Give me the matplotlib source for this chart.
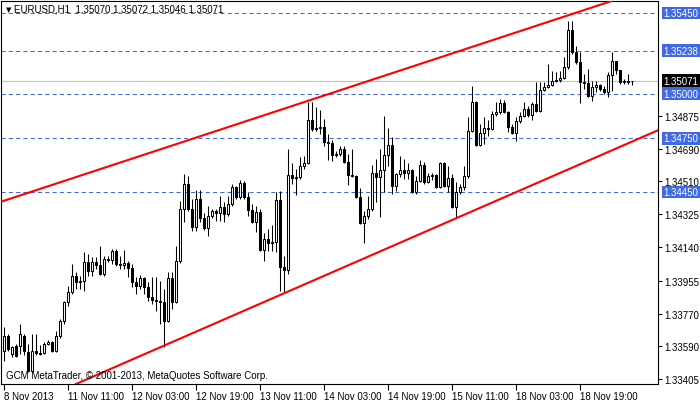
import matplotlib
matplotlib.use("Agg")
import matplotlib.pyplot as plt
import matplotlib.transforms as mtransforms

plt.rcParams['font.family'] = ['Liberation Sans', 'DejaVu Sans']
plt.rcParams['font.size'] = 7

# EURUSD H1 bars, 8 Nov 2013 19:00 -> 19 Nov 2013 08:00
opens = [1.33562, 1.33645, 1.33545, 1.33590, 1.33590, 1.33645, 1.33556, 1.33450, 1.33562, 1.33550,
         1.33550, 1.33601, 1.33612, 1.33562, 1.33645, 1.33729, 1.33835, 1.33891, 1.33981, 1.33947,
         1.33953, 1.34059, 1.34009, 1.34059, 1.34042, 1.33992, 1.34076, 1.34070, 1.34120, 1.34048,
         1.34042, 1.34053, 1.34025, 1.33947, 1.33925, 1.33969, 1.33919, 1.33863, 1.33847, 1.33841,
         1.33835, 1.33729, 1.33969, 1.33835, 1.34064, 1.34355, 1.34495, 1.34355, 1.34254, 1.34411,
         1.34305, 1.34249, 1.34316, 1.34344, 1.34333, 1.34366, 1.34327, 1.34383, 1.34478, 1.34422,
         1.34500, 1.34422, 1.34349, 1.34282, 1.34338, 1.34126, 1.34187, 1.34165, 1.34170, 1.34405,
         1.34031, 1.34014, 1.34545, 1.34528, 1.34534, 1.34595, 1.34612, 1.34852, 1.34802, 1.34807,
         1.34813, 1.34729, 1.34724, 1.34657, 1.34662, 1.34690, 1.34617, 1.34545, 1.34539, 1.34422,
         1.34277, 1.34316, 1.34355, 1.34556, 1.34534, 1.34573, 1.34657, 1.34712, 1.34483, 1.34550,
         1.34573, 1.34556, 1.34573, 1.34450, 1.34511, 1.34601, 1.34506, 1.34539, 1.34545, 1.34478,
         1.34612, 1.34483, 1.34528, 1.34366, 1.34450, 1.34478, 1.34539, 1.34791, 1.34953, 1.34712,
         1.34779, 1.34807, 1.34802, 1.34886, 1.34897, 1.34947, 1.34897, 1.34813, 1.34779, 1.34847,
         1.34874, 1.34914, 1.34880, 1.34942, 1.34902, 1.35020, 1.35036, 1.35048, 1.35070, 1.35076,
         1.35087, 1.35148, 1.35355, 1.35232, 1.35176, 1.35064, 1.35059, 1.34986, 1.35036, 1.35048,
         1.35025, 1.35009, 1.35104, 1.35182, 1.35131, 1.35064, 1.35070, 1.35070]
highs = [1.33696, 1.33656, 1.33590, 1.33601, 1.33713, 1.33657, 1.33601, 1.33657, 1.33657, 1.33595,
         1.33612, 1.33623, 1.33617, 1.33673, 1.33740, 1.33841, 1.33925, 1.34048, 1.34003, 1.33981,
         1.34115, 1.34104, 1.34087, 1.34087, 1.34148, 1.34093, 1.34093, 1.34131, 1.34131, 1.34093,
         1.34126, 1.34064, 1.34048, 1.33975, 1.33986, 1.33975, 1.33947, 1.33975, 1.33975, 1.33953,
         1.33908, 1.34003, 1.34003, 1.34148, 1.34400, 1.34550, 1.34539, 1.34411, 1.34461, 1.34461,
         1.34333, 1.34372, 1.34355, 1.34355, 1.34428, 1.34394, 1.34428, 1.34495, 1.34483, 1.34517,
         1.34511, 1.34450, 1.34383, 1.34372, 1.34355, 1.34221, 1.34243, 1.34266, 1.34450, 1.34456,
         1.34093, 1.34690, 1.34612, 1.34578, 1.34645, 1.34651, 1.34953, 1.34953, 1.34925, 1.34908,
         1.34858, 1.34774, 1.34740, 1.34679, 1.34707, 1.34707, 1.34662, 1.34690, 1.34545, 1.34472,
         1.34344, 1.34428, 1.34601, 1.34634, 1.34690, 1.34874, 1.34807, 1.34757, 1.34556, 1.34651,
         1.34634, 1.34612, 1.34578, 1.34539, 1.34629, 1.34617, 1.34556, 1.34556, 1.34550, 1.34617,
         1.34617, 1.34595, 1.34550, 1.34506, 1.34495, 1.34595, 1.34869, 1.35042, 1.34958, 1.34830,
         1.34869, 1.34852, 1.34902, 1.34953, 1.34970, 1.34964, 1.34902, 1.34830, 1.34869, 1.34897,
         1.34953, 1.34930, 1.34953, 1.35064, 1.35064, 1.35064, 1.35165, 1.35126, 1.35120, 1.35126,
         1.35204, 1.35405, 1.35405, 1.35266, 1.35232, 1.35109, 1.35137, 1.35070, 1.35070, 1.35053,
         1.35042, 1.35120, 1.35232, 1.35182, 1.35131, 1.35081, 1.35109, 1.35072]
lows = [1.33506, 1.33562, 1.33528, 1.33528, 1.33545, 1.33539, 1.33444, 1.33444, 1.33539, 1.33539,
        1.33545, 1.33595, 1.33556, 1.33556, 1.33634, 1.33713, 1.33813, 1.33880, 1.33908, 1.33908,
        1.33897, 1.33981, 1.33981, 1.34020, 1.33986, 1.33981, 1.34059, 1.34048, 1.34037, 1.34020,
        1.34020, 1.33975, 1.33919, 1.33880, 1.33908, 1.33880, 1.33841, 1.33824, 1.33785, 1.33713,
        1.33584, 1.33724, 1.33796, 1.33830, 1.34053, 1.34282, 1.34344, 1.34232, 1.34232, 1.34282,
        1.34238, 1.34204, 1.34305, 1.34288, 1.34288, 1.34282, 1.34316, 1.34372, 1.34411, 1.34411,
        1.34411, 1.34316, 1.34277, 1.34226, 1.34120, 1.34064, 1.34120, 1.34120, 1.34115, 1.33897,
        1.33891, 1.33992, 1.34495, 1.34433, 1.34523, 1.34578, 1.34606, 1.34791, 1.34791, 1.34774,
        1.34707, 1.34629, 1.34623, 1.34645, 1.34651, 1.34612, 1.34489, 1.34534, 1.34417, 1.34271,
        1.34165, 1.34299, 1.34344, 1.34394, 1.34310, 1.34450, 1.34595, 1.34439, 1.34456, 1.34534,
        1.34523, 1.34523, 1.34444, 1.34439, 1.34506, 1.34495, 1.34500, 1.34517, 1.34472, 1.34472,
        1.34478, 1.34450, 1.34360, 1.34310, 1.34439, 1.34461, 1.34528, 1.34785, 1.34707, 1.34707,
        1.34718, 1.34763, 1.34796, 1.34874, 1.34886, 1.34891, 1.34785, 1.34774, 1.34735, 1.34835,
        1.34869, 1.34869, 1.34852, 1.34897, 1.34897, 1.35014, 1.35031, 1.35042, 1.35064, 1.35064,
        1.35081, 1.35137, 1.35221, 1.35165, 1.34947, 1.35025, 1.34980, 1.34958, 1.35009, 1.35014,
        1.34997, 1.34980, 1.35014, 1.35109, 1.35053, 1.35053, 1.35053, 1.35046]
closes = [1.33645, 1.33573, 1.33584, 1.33534, 1.33657, 1.33562, 1.33450, 1.33562, 1.33550, 1.33545,
          1.33601, 1.33612, 1.33562, 1.33645, 1.33729, 1.33835, 1.33891, 1.33980, 1.33947, 1.33953,
          1.34059, 1.34009, 1.34059, 1.34042, 1.33992, 1.34076, 1.34070, 1.34120, 1.34048, 1.34042,
          1.34053, 1.34025, 1.33947, 1.33925, 1.33969, 1.33919, 1.33863, 1.33847, 1.33841, 1.33835,
          1.33729, 1.33969, 1.33835, 1.34064, 1.34355, 1.34495, 1.34355, 1.34254, 1.34411, 1.34305,
          1.34249, 1.34316, 1.34344, 1.34333, 1.34366, 1.34327, 1.34383, 1.34478, 1.34422, 1.34500,
          1.34422, 1.34349, 1.34282, 1.34338, 1.34126, 1.34187, 1.34165, 1.34170, 1.34405, 1.34031,
          1.34014, 1.34545, 1.34528, 1.34534, 1.34595, 1.34612, 1.34852, 1.34802, 1.34807, 1.34813,
          1.34729, 1.34724, 1.34657, 1.34662, 1.34690, 1.34617, 1.34545, 1.34539, 1.34422, 1.34277,
          1.34316, 1.34355, 1.34556, 1.34534, 1.34573, 1.34657, 1.34712, 1.34483, 1.34550, 1.34573,
          1.34556, 1.34573, 1.34450, 1.34511, 1.34601, 1.34506, 1.34539, 1.34545, 1.34478, 1.34612,
          1.34483, 1.34528, 1.34366, 1.34450, 1.34478, 1.34539, 1.34791, 1.34953, 1.34712, 1.34779,
          1.34807, 1.34802, 1.34886, 1.34897, 1.34947, 1.34897, 1.34813, 1.34779, 1.34847, 1.34874,
          1.34914, 1.34880, 1.34942, 1.34902, 1.35020, 1.35036, 1.35048, 1.35070, 1.35076, 1.35087,
          1.35148, 1.35355, 1.35232, 1.35176, 1.35064, 1.35059, 1.34986, 1.35036, 1.35048, 1.35025,
          1.35009, 1.35104, 1.35182, 1.35131, 1.35064, 1.35070, 1.35064, 1.35071]

time_labels = ["8 Nov 2013", "11 Nov 11:00", "12 Nov 03:00", "12 Nov 19:00", "13 Nov 11:00",
               "14 Nov 03:00", "14 Nov 19:00", "15 Nov 11:00", "18 Nov 03:00", "18 Nov 19:00"]
levels = [1.35450, 1.35238, 1.35000, 1.34750, 1.34450]
bid = 1.35071
price_ticks = [1.34875, 1.34690, 1.34510, 1.34325, 1.34140, 1.33955, 1.33770, 1.33590, 1.33405]
# trend lines: (bar index, price) anchors
upper_trend = [(0, 1.34400), (150, 1.35502)]
lower_trend = [(68, 1.33863), (158, 1.34740)]

fig = plt.figure(figsize=(7, 4.02), dpi=100)
ax = fig.add_axes([0.5 / 700, 17 / 402, 657 / 700, 383 / 402])
ax.set_xlim(-0.75, 163.5)
ax.set_ylim(1.33377, 1.35517)

# levels and bid line
for lv in levels:
    ax.axhline(lv, color='#4169E1', lw=0.75, ls=(0, (4, 3)), zorder=1)
ax.axhline(bid, color='#C0C0C0', lw=0.8, zorder=1)

# candles
for i in range(len(opens)):
    o, h, l, c = opens[i], highs[i], lows[i], closes[i]
    ax.vlines(i, l, h, color='black', lw=0.75, zorder=2)
    body = max(abs(c - o), 0.00001)
    face = 'white' if c >= o else 'black'
    ax.bar(i, body, bottom=min(o, c), width=0.5, color=face, edgecolor='black',
           linewidth=0.75, zorder=3)

# channel
ax.axline(upper_trend[0], upper_trend[1], color='red', lw=1.5, zorder=4)
ax.axline(lower_trend[0], lower_trend[1], color='red', lw=1.5, zorder=4)

# axes styling
for sp in ax.spines.values():
    sp.set_linewidth(0.8)
ax.yaxis.tick_right()
ax.set_yticks(price_ticks)
ax.set_yticklabels(['%.5f' % p for p in price_ticks])
ax.tick_params(axis='y', direction='out', length=3, width=0.8, pad=2, labelsize=7)
ax.set_xticks(range(0, 16 * len(time_labels), 16))
ax.set_xticklabels(time_labels, ha='left')
ax.tick_params(axis='x', direction='out', length=4, width=0.8, pad=1, labelsize=7)

# highlighted price labels on the right
trans = mtransforms.blended_transform_factory(ax.transAxes, ax.transData)
for lv in levels:
    ax.text(1.0 + 6 / 657, lv, '%.5f' % lv, transform=trans, ha='left', va='center',
            color='white', fontsize=7, clip_on=False, zorder=6,
            bbox=dict(boxstyle='square,pad=0.15', fc='#4169E1', ec='none'))
ax.text(1.0 + 6 / 657, bid, '%.5f' % bid, transform=trans, ha='left', va='center',
        color='white', fontsize=7, clip_on=False, zorder=6,
        bbox=dict(boxstyle='square,pad=0.15', fc='black', ec='none'))

# header and copyright
fig.text(6 / 700, 1 - 10 / 402, '\u25bc', fontsize=5, va='center', family='DejaVu Sans')
fig.text(14 / 700, 1 - 10 / 402, 'EURUSD,H1  1.35070 1.35072 1.35046 1.35071', fontsize=7, va='center')
fig.text(6 / 700, 1 - 376 / 402, 'GCM MetaTrader, \u00a9 2001-2013, MetaQuotes Software Corp.',
         fontsize=7, va='center')

fig.savefig('out.png', dpi=100)
